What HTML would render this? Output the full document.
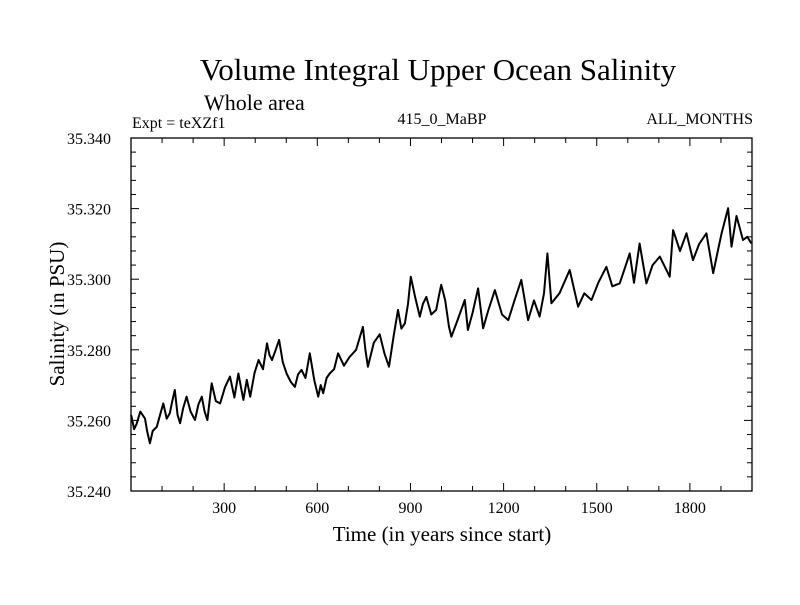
<!DOCTYPE html>
<html><head><meta charset="utf-8"><style>
body{margin:0;background:#fff}
svg text{font-family:"Liberation Serif",serif;fill:#000}
</style></head><body>
<svg id="c" width="800" height="600" xmlns="http://www.w3.org/2000/svg">
<text x="438" y="80" font-size="31" text-anchor="middle">Volume Integral Upper Ocean Salinity</text>
<text x="204" y="110" font-size="22">Whole area</text>
<text x="132" y="128" font-size="16">Expt = teXZf1</text>
<text x="442" y="124" font-size="16" text-anchor="middle">415_0_MaBP</text>
<text x="753" y="124" font-size="16" text-anchor="end">ALL_MONTHS</text>
<text x="442" y="541" font-size="21" text-anchor="middle">Time (in years since start)</text>
<text transform="translate(64,314) rotate(-90)" font-size="21" text-anchor="middle">Salinity (in PSU)</text>
<g id="axes"></g>
<path id="line" fill="none" stroke="#000" stroke-width="2" stroke-linejoin="round"/>
</svg>
<script>
const years=[0,2,10,18,30,45,52,61,70,83,95,104,115,125,133,141,150,158,168,179,192,206,217,228,237,246,253,260,273,287,303,319,333,346,354,362,373,384,398,411,425,438,446,454,466,477,489,501,514,528,538,549,562,576,590,603,611,619,630,640,654,667,686,704,725,747,755,763,782,801,816,831,846,860,871,882,892,901,915,930,940,951,967,983,991,999,1012,1024,1032,1050,1075,1085,1100,1118,1134,1150,1172,1195,1215,1235,1257,1279,1298,1316,1330,1341,1354,1380,1413,1440,1460,1483,1505,1531,1550,1574,1590,1606,1620,1638,1660,1680,1703,1735,1746,1768,1789,1810,1830,1853,1875,1890,1902,1923,1934,1950,1971,1985,1998];
const values=[35.2615,35.261,35.2575,35.259,35.2625,35.2605,35.257,35.2535,35.257,35.2582,35.262,35.2648,35.2605,35.262,35.2655,35.2686,35.2615,35.2592,35.2635,35.2667,35.2625,35.2601,35.2645,35.2667,35.2625,35.2601,35.2655,35.2705,35.2655,35.2648,35.2695,35.2724,35.2665,35.2733,35.2695,35.2658,35.2715,35.2667,35.2735,35.2771,35.2745,35.2818,35.2785,35.2771,35.2800,35.2828,35.2765,35.2733,35.2710,35.2695,35.2730,35.2743,35.2720,35.2790,35.2715,35.2667,35.2700,35.2677,35.2720,35.2733,35.2745,35.2790,35.2755,35.2780,35.2800,35.2865,35.2800,35.2752,35.2820,35.2844,35.2790,35.2752,35.2840,35.2913,35.2860,35.2875,35.2930,35.3007,35.2950,35.2894,35.2930,35.2950,35.2900,35.2913,35.2950,35.2984,35.2940,35.2865,35.2837,35.2880,35.2941,35.2856,35.2905,35.2974,35.2861,35.2910,35.2969,35.2900,35.2884,35.2940,35.2998,35.2884,35.2940,35.2894,35.2960,35.3073,35.2932,35.2960,35.3026,35.2922,35.2960,35.2941,35.2990,35.3035,35.2980,35.2988,35.3030,35.3073,35.2990,35.3101,35.2988,35.3040,35.3064,35.3007,35.3139,35.3080,35.3130,35.3054,35.3100,35.3130,35.3017,35.3080,35.3130,35.3201,35.3092,35.3179,35.3111,35.3120,35.3101];
const xTicks=[300,600,900,1200,1500,1800];
const yTicks=[35.24,35.26,35.28,35.30,35.32,35.34];
const L=131,R=752,T=138,B=491,X0=0,X1=2000,Y0=35.24,Y1=35.34;
const sx=v=>L+(v-X0)/(X1-X0)*(R-L);
const sy=v=>B-(v-Y0)/(Y1-Y0)*(B-T);
const NS='http://www.w3.org/2000/svg';
const ax=document.getElementById('axes');
function mk(t,a){const e=document.createElementNS(NS,t);for(const k in a)e.setAttribute(k,a[k]);ax.appendChild(e);return e;}
const fr=mk('rect',{x:L,y:T,width:R-L,height:B-T,fill:'none',stroke:'#000','stroke-width':1.3});


for(let v=100;v<X1;v+=100){const maj=v%300===0,len=maj?8:5;
mk('line',{x1:sx(v),x2:sx(v),y1:B,y2:B-len,stroke:'#000'});
mk('line',{x1:sx(v),x2:sx(v),y1:T,y2:T+len,stroke:'#000'});}
for(let i=1;i<25;i++){const v=Y0+i*0.004,maj=i%5===0,len=maj?8:5;
mk('line',{x1:L,x2:L+len,y1:sy(v),y2:sy(v),stroke:'#000'});
mk('line',{x1:R,x2:R-len,y1:sy(v),y2:sy(v),stroke:'#000'});}
xTicks.forEach(v=>{const t=mk('text',{x:sx(v),y:B+22,'font-size':16,'text-anchor':'middle'});t.textContent=v;

});
yTicks.forEach(v=>{const t=mk('text',{x:L-20,y:sy(v)+6,'font-size':16,'text-anchor':'end'});t.textContent=v.toFixed(3);

});
document.getElementById('line').setAttribute('d',years.map((y,i)=>(i?'L':'M')+sx(y).toFixed(1)+' '+sy(values[i]).toFixed(1)).join(''));
</script>
</body></html>
